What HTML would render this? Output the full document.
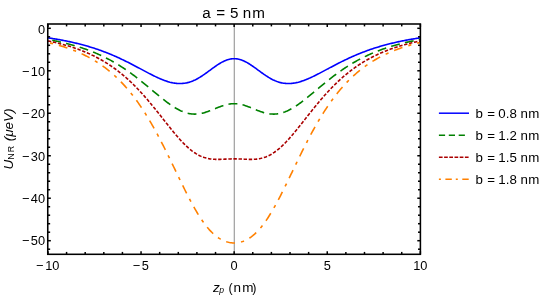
<!DOCTYPE html>
<html><head><meta charset="utf-8"><title>plot</title>
<style>
html,body{margin:0;padding:0;background:#fff;}
body{width:545px;height:296px;overflow:hidden;}
svg{display:block;will-change:transform;}
text{font-family:"Liberation Sans",sans-serif;fill:#000;}
</style></head><body>
<svg width="545" height="296" viewBox="0 0 545 296">
<rect x="0" y="0" width="545" height="296" fill="#fff"/>
<!-- x=0 gray line -->
<line x1="234.25" y1="24.0" x2="234.25" y2="254.3" stroke="#808080" stroke-width="0.92"/>
<!-- curves -->
<g fill="none" stroke-width="1.6" stroke-linejoin="round">
<path d="M47.95,37.83 L48.88,37.97 L49.81,38.11 L50.74,38.26 L51.67,38.40 L52.60,38.55 L53.54,38.70 L54.47,38.85 L55.40,39.00 L56.33,39.16 L57.26,39.32 L58.19,39.48 L59.12,39.65 L60.05,39.82 L60.98,39.99 L61.91,40.16 L62.85,40.34 L63.78,40.52 L64.71,40.70 L65.64,40.88 L66.57,41.07 L67.50,41.26 L68.43,41.46 L69.36,41.65 L70.29,41.86 L71.22,42.06 L72.16,42.27 L73.09,42.48 L74.02,42.69 L74.95,42.91 L75.88,43.13 L76.81,43.35 L77.74,43.58 L78.67,43.81 L79.60,44.05 L80.53,44.29 L81.47,44.53 L82.40,44.78 L83.33,45.03 L84.26,45.28 L85.19,45.54 L86.12,45.80 L87.05,46.07 L87.98,46.34 L88.91,46.62 L89.84,46.90 L90.78,47.18 L91.71,47.47 L92.64,47.76 L93.57,48.06 L94.50,48.36 L95.43,48.67 L96.36,48.98 L97.29,49.29 L98.22,49.61 L99.16,49.94 L100.09,50.26 L101.02,50.60 L101.95,50.94 L102.88,51.28 L103.81,51.63 L104.74,51.98 L105.67,52.34 L106.60,52.70 L107.53,53.07 L108.47,53.44 L109.40,53.82 L110.33,54.20 L111.26,54.59 L112.19,54.98 L113.12,55.37 L114.05,55.78 L114.98,56.18 L115.91,56.59 L116.84,57.01 L117.78,57.43 L118.71,57.85 L119.64,58.28 L120.57,58.72 L121.50,59.16 L122.43,59.60 L123.36,60.05 L124.29,60.50 L125.22,60.95 L126.15,61.41 L127.08,61.88 L128.02,62.34 L128.95,62.81 L129.88,63.29 L130.81,63.76 L131.74,64.24 L132.67,64.73 L133.60,65.21 L134.53,65.70 L135.46,66.19 L136.39,66.68 L137.33,67.18 L138.26,67.67 L139.19,68.17 L140.12,68.67 L141.05,69.16 L141.98,69.66 L142.91,70.16 L143.84,70.65 L144.77,71.15 L145.70,71.64 L146.64,72.14 L147.57,72.63 L148.50,73.11 L149.43,73.60 L150.36,74.08 L151.29,74.55 L152.22,75.03 L153.15,75.49 L154.08,75.95 L155.01,76.40 L155.95,76.85 L156.88,77.29 L157.81,77.72 L158.74,78.14 L159.67,78.55 L160.60,78.95 L161.53,79.33 L162.46,79.71 L163.39,80.07 L164.32,80.42 L165.26,80.76 L166.19,81.08 L167.12,81.38 L168.05,81.67 L168.98,81.94 L169.91,82.20 L170.84,82.43 L171.77,82.64 L172.70,82.84 L173.63,83.01 L174.57,83.16 L175.50,83.29 L176.43,83.39 L177.36,83.47 L178.29,83.53 L179.22,83.56 L180.15,83.57 L181.08,83.55 L182.01,83.50 L182.94,83.42 L183.88,83.32 L184.81,83.19 L185.74,83.03 L186.67,82.85 L187.60,82.63 L188.53,82.39 L189.46,82.12 L190.39,81.82 L191.32,81.49 L192.25,81.13 L193.19,80.75 L194.12,80.34 L195.05,79.91 L195.98,79.45 L196.91,78.96 L197.84,78.45 L198.77,77.92 L199.70,77.37 L200.63,76.79 L201.56,76.20 L202.50,75.59 L203.43,74.96 L204.36,74.32 L205.29,73.67 L206.22,73.00 L207.15,72.33 L208.08,71.65 L209.01,70.97 L209.94,70.28 L210.88,69.59 L211.81,68.91 L212.74,68.22 L213.67,67.55 L214.60,66.88 L215.53,66.23 L216.46,65.59 L217.39,64.96 L218.32,64.35 L219.25,63.77 L220.19,63.20 L221.12,62.66 L222.05,62.15 L222.98,61.67 L223.91,61.21 L224.84,60.79 L225.77,60.41 L226.70,60.06 L227.63,59.75 L228.56,59.48 L229.50,59.25 L230.43,59.05 L231.36,58.90 L232.29,58.80 L233.22,58.73 L234.15,58.71 L235.08,58.73 L236.01,58.80 L236.94,58.90 L237.87,59.05 L238.81,59.25 L239.74,59.48 L240.67,59.75 L241.60,60.06 L242.53,60.41 L243.46,60.79 L244.39,61.21 L245.32,61.67 L246.25,62.15 L247.18,62.66 L248.12,63.20 L249.05,63.77 L249.98,64.35 L250.91,64.96 L251.84,65.59 L252.77,66.23 L253.70,66.88 L254.63,67.55 L255.56,68.22 L256.49,68.91 L257.43,69.59 L258.36,70.28 L259.29,70.97 L260.22,71.65 L261.15,72.33 L262.08,73.00 L263.01,73.67 L263.94,74.32 L264.87,74.96 L265.80,75.59 L266.74,76.20 L267.67,76.79 L268.60,77.37 L269.53,77.92 L270.46,78.45 L271.39,78.96 L272.32,79.45 L273.25,79.91 L274.18,80.34 L275.11,80.75 L276.05,81.13 L276.98,81.49 L277.91,81.82 L278.84,82.12 L279.77,82.39 L280.70,82.63 L281.63,82.85 L282.56,83.03 L283.49,83.19 L284.42,83.32 L285.36,83.42 L286.29,83.50 L287.22,83.55 L288.15,83.57 L289.08,83.56 L290.01,83.53 L290.94,83.47 L291.87,83.39 L292.80,83.29 L293.73,83.16 L294.67,83.01 L295.60,82.84 L296.53,82.64 L297.46,82.43 L298.39,82.20 L299.32,81.94 L300.25,81.67 L301.18,81.38 L302.11,81.08 L303.04,80.76 L303.98,80.42 L304.91,80.07 L305.84,79.71 L306.77,79.33 L307.70,78.95 L308.63,78.55 L309.56,78.14 L310.49,77.72 L311.42,77.29 L312.35,76.85 L313.29,76.40 L314.22,75.95 L315.15,75.49 L316.08,75.03 L317.01,74.55 L317.94,74.08 L318.87,73.60 L319.80,73.11 L320.73,72.63 L321.66,72.14 L322.60,71.64 L323.53,71.15 L324.46,70.65 L325.39,70.16 L326.32,69.66 L327.25,69.16 L328.18,68.67 L329.11,68.17 L330.04,67.67 L330.97,67.18 L331.91,66.68 L332.84,66.19 L333.77,65.70 L334.70,65.21 L335.63,64.73 L336.56,64.24 L337.49,63.76 L338.42,63.29 L339.35,62.81 L340.28,62.34 L341.22,61.88 L342.15,61.41 L343.08,60.95 L344.01,60.50 L344.94,60.05 L345.87,59.60 L346.80,59.16 L347.73,58.72 L348.66,58.28 L349.59,57.85 L350.52,57.43 L351.46,57.01 L352.39,56.59 L353.32,56.18 L354.25,55.78 L355.18,55.37 L356.11,54.98 L357.04,54.59 L357.97,54.20 L358.90,53.82 L359.84,53.44 L360.77,53.07 L361.70,52.70 L362.63,52.34 L363.56,51.98 L364.49,51.63 L365.42,51.28 L366.35,50.94 L367.28,50.60 L368.21,50.26 L369.14,49.94 L370.08,49.61 L371.01,49.29 L371.94,48.98 L372.87,48.67 L373.80,48.36 L374.73,48.06 L375.66,47.76 L376.59,47.47 L377.52,47.18 L378.46,46.90 L379.39,46.62 L380.32,46.34 L381.25,46.07 L382.18,45.80 L383.11,45.54 L384.04,45.28 L384.97,45.03 L385.90,44.78 L386.83,44.53 L387.76,44.29 L388.70,44.05 L389.63,43.81 L390.56,43.58 L391.49,43.35 L392.42,43.13 L393.35,42.91 L394.28,42.69 L395.21,42.48 L396.14,42.27 L397.08,42.06 L398.01,41.86 L398.94,41.65 L399.87,41.46 L400.80,41.26 L401.73,41.07 L402.66,40.88 L403.59,40.70 L404.52,40.52 L405.45,40.34 L406.38,40.16 L407.32,39.99 L408.25,39.82 L409.18,39.65 L410.11,39.48 L411.04,39.32 L411.97,39.16 L412.90,39.00 L413.83,38.85 L414.76,38.70 L415.70,38.55 L416.63,38.40 L417.56,38.26 L418.49,38.11 L419.42,37.97 L420.35,37.83" stroke="#0000ff"/>
<path d="M47.95,39.54 L48.88,39.70 L49.81,39.87 L50.74,40.05 L51.67,40.22 L52.60,40.40 L53.54,40.58 L54.47,40.77 L55.40,40.96 L56.33,41.15 L57.26,41.34 L58.19,41.54 L59.12,41.74 L60.05,41.95 L60.98,42.15 L61.91,42.37 L62.85,42.58 L63.78,42.80 L64.71,43.02 L65.64,43.25 L66.57,43.48 L67.50,43.72 L68.43,43.96 L69.36,44.20 L70.29,44.45 L71.22,44.70 L72.16,44.95 L73.09,45.21 L74.02,45.48 L74.95,45.75 L75.88,46.02 L76.81,46.30 L77.74,46.59 L78.67,46.87 L79.60,47.17 L80.53,47.47 L81.47,47.77 L82.40,48.08 L83.33,48.39 L84.26,48.71 L85.19,49.04 L86.12,49.37 L87.05,49.70 L87.98,50.04 L88.91,50.39 L89.84,50.74 L90.78,51.10 L91.71,51.47 L92.64,51.84 L93.57,52.22 L94.50,52.60 L95.43,52.99 L96.36,53.39 L97.29,53.79 L98.22,54.20 L99.16,54.62 L100.09,55.04 L101.02,55.47 L101.95,55.91 L102.88,56.35 L103.81,56.80 L104.74,57.26 L105.67,57.73 L106.60,58.20 L107.53,58.68 L108.47,59.17 L109.40,59.66 L110.33,60.16 L111.26,60.67 L112.19,61.19 L113.12,61.72 L114.05,62.25 L114.98,62.79 L115.91,63.34 L116.84,63.90 L117.78,64.46 L118.71,65.03 L119.64,65.61 L120.57,66.20 L121.50,66.80 L122.43,67.40 L123.36,68.01 L124.29,68.63 L125.22,69.26 L126.15,69.89 L127.08,70.54 L128.02,71.19 L128.95,71.85 L129.88,72.51 L130.81,73.18 L131.74,73.86 L132.67,74.55 L133.60,75.25 L134.53,75.95 L135.46,76.65 L136.39,77.37 L137.33,78.09 L138.26,78.82 L139.19,79.55 L140.12,80.29 L141.05,81.03 L141.98,81.78 L142.91,82.53 L143.84,83.29 L144.77,84.06 L145.70,84.82 L146.64,85.59 L147.57,86.36 L148.50,87.14 L149.43,87.92 L150.36,88.69 L151.29,89.47 L152.22,90.26 L153.15,91.04 L154.08,91.82 L155.01,92.60 L155.95,93.37 L156.88,94.15 L157.81,94.92 L158.74,95.69 L159.67,96.45 L160.60,97.21 L161.53,97.96 L162.46,98.71 L163.39,99.45 L164.32,100.18 L165.26,100.90 L166.19,101.61 L167.12,102.31 L168.05,103.00 L168.98,103.68 L169.91,104.34 L170.84,104.99 L171.77,105.62 L172.70,106.24 L173.63,106.84 L174.57,107.42 L175.50,107.99 L176.43,108.53 L177.36,109.05 L178.29,109.55 L179.22,110.03 L180.15,110.49 L181.08,110.92 L182.01,111.32 L182.94,111.70 L183.88,112.06 L184.81,112.38 L185.74,112.68 L186.67,112.95 L187.60,113.20 L188.53,113.41 L189.46,113.60 L190.39,113.75 L191.32,113.88 L192.25,113.97 L193.19,114.04 L194.12,114.08 L195.05,114.09 L195.98,114.06 L196.91,114.01 L197.84,113.93 L198.77,113.83 L199.70,113.69 L200.63,113.53 L201.56,113.35 L202.50,113.14 L203.43,112.91 L204.36,112.65 L205.29,112.38 L206.22,112.09 L207.15,111.78 L208.08,111.45 L209.01,111.11 L209.94,110.76 L210.88,110.39 L211.81,110.02 L212.74,109.64 L213.67,109.26 L214.60,108.87 L215.53,108.49 L216.46,108.11 L217.39,107.73 L218.32,107.35 L219.25,106.99 L220.19,106.63 L221.12,106.29 L222.05,105.96 L222.98,105.65 L223.91,105.35 L224.84,105.08 L225.77,104.83 L226.70,104.59 L227.63,104.39 L228.56,104.20 L229.50,104.05 L230.43,103.92 L231.36,103.82 L232.29,103.74 L233.22,103.70 L234.15,103.69 L235.08,103.70 L236.01,103.74 L236.94,103.82 L237.87,103.92 L238.81,104.05 L239.74,104.20 L240.67,104.39 L241.60,104.59 L242.53,104.83 L243.46,105.08 L244.39,105.35 L245.32,105.65 L246.25,105.96 L247.18,106.29 L248.12,106.63 L249.05,106.99 L249.98,107.35 L250.91,107.73 L251.84,108.11 L252.77,108.49 L253.70,108.87 L254.63,109.26 L255.56,109.64 L256.49,110.02 L257.43,110.39 L258.36,110.76 L259.29,111.11 L260.22,111.45 L261.15,111.78 L262.08,112.09 L263.01,112.38 L263.94,112.65 L264.87,112.91 L265.80,113.14 L266.74,113.35 L267.67,113.53 L268.60,113.69 L269.53,113.83 L270.46,113.93 L271.39,114.01 L272.32,114.06 L273.25,114.09 L274.18,114.08 L275.11,114.04 L276.05,113.97 L276.98,113.88 L277.91,113.75 L278.84,113.60 L279.77,113.41 L280.70,113.20 L281.63,112.95 L282.56,112.68 L283.49,112.38 L284.42,112.06 L285.36,111.70 L286.29,111.32 L287.22,110.92 L288.15,110.49 L289.08,110.03 L290.01,109.55 L290.94,109.05 L291.87,108.53 L292.80,107.99 L293.73,107.42 L294.67,106.84 L295.60,106.24 L296.53,105.62 L297.46,104.99 L298.39,104.34 L299.32,103.68 L300.25,103.00 L301.18,102.31 L302.11,101.61 L303.04,100.90 L303.98,100.18 L304.91,99.45 L305.84,98.71 L306.77,97.96 L307.70,97.21 L308.63,96.45 L309.56,95.69 L310.49,94.92 L311.42,94.15 L312.35,93.37 L313.29,92.60 L314.22,91.82 L315.15,91.04 L316.08,90.26 L317.01,89.47 L317.94,88.69 L318.87,87.92 L319.80,87.14 L320.73,86.36 L321.66,85.59 L322.60,84.82 L323.53,84.06 L324.46,83.29 L325.39,82.53 L326.32,81.78 L327.25,81.03 L328.18,80.29 L329.11,79.55 L330.04,78.82 L330.97,78.09 L331.91,77.37 L332.84,76.65 L333.77,75.95 L334.70,75.25 L335.63,74.55 L336.56,73.86 L337.49,73.18 L338.42,72.51 L339.35,71.85 L340.28,71.19 L341.22,70.54 L342.15,69.89 L343.08,69.26 L344.01,68.63 L344.94,68.01 L345.87,67.40 L346.80,66.80 L347.73,66.20 L348.66,65.61 L349.59,65.03 L350.52,64.46 L351.46,63.90 L352.39,63.34 L353.32,62.79 L354.25,62.25 L355.18,61.72 L356.11,61.19 L357.04,60.67 L357.97,60.16 L358.90,59.66 L359.84,59.17 L360.77,58.68 L361.70,58.20 L362.63,57.73 L363.56,57.26 L364.49,56.80 L365.42,56.35 L366.35,55.91 L367.28,55.47 L368.21,55.04 L369.14,54.62 L370.08,54.20 L371.01,53.79 L371.94,53.39 L372.87,52.99 L373.80,52.60 L374.73,52.22 L375.66,51.84 L376.59,51.47 L377.52,51.10 L378.46,50.74 L379.39,50.39 L380.32,50.04 L381.25,49.70 L382.18,49.37 L383.11,49.04 L384.04,48.71 L384.97,48.39 L385.90,48.08 L386.83,47.77 L387.76,47.47 L388.70,47.17 L389.63,46.87 L390.56,46.59 L391.49,46.30 L392.42,46.02 L393.35,45.75 L394.28,45.48 L395.21,45.21 L396.14,44.95 L397.08,44.70 L398.01,44.45 L398.94,44.20 L399.87,43.96 L400.80,43.72 L401.73,43.48 L402.66,43.25 L403.59,43.02 L404.52,42.80 L405.45,42.58 L406.38,42.37 L407.32,42.15 L408.25,41.95 L409.18,41.74 L410.11,41.54 L411.04,41.34 L411.97,41.15 L412.90,40.96 L413.83,40.77 L414.76,40.58 L415.70,40.40 L416.63,40.22 L417.56,40.05 L418.49,39.87 L419.42,39.70 L420.35,39.54" stroke="#008000" stroke-dasharray="8.9 5.27" stroke-dashoffset="9.8"/>
<path d="M47.95,40.92 L48.88,41.11 L49.81,41.30 L50.74,41.50 L51.67,41.71 L52.60,41.91 L53.54,42.12 L54.47,42.34 L55.40,42.55 L56.33,42.77 L57.26,43.00 L58.19,43.23 L59.12,43.46 L60.05,43.70 L60.98,43.94 L61.91,44.19 L62.85,44.44 L63.78,44.69 L64.71,44.95 L65.64,45.22 L66.57,45.49 L67.50,45.76 L68.43,46.04 L69.36,46.32 L70.29,46.61 L71.22,46.91 L72.16,47.21 L73.09,47.51 L74.02,47.82 L74.95,48.14 L75.88,48.46 L76.81,48.79 L77.74,49.12 L78.67,49.46 L79.60,49.81 L80.53,50.16 L81.47,50.52 L82.40,50.89 L83.33,51.26 L84.26,51.64 L85.19,52.02 L86.12,52.42 L87.05,52.82 L87.98,53.22 L88.91,53.64 L89.84,54.06 L90.78,54.49 L91.71,54.93 L92.64,55.37 L93.57,55.83 L94.50,56.29 L95.43,56.76 L96.36,57.24 L97.29,57.72 L98.22,58.22 L99.16,58.72 L100.09,59.23 L101.02,59.76 L101.95,60.29 L102.88,60.83 L103.81,61.38 L104.74,61.94 L105.67,62.51 L106.60,63.09 L107.53,63.68 L108.47,64.28 L109.40,64.89 L110.33,65.51 L111.26,66.14 L112.19,66.78 L113.12,67.43 L114.05,68.10 L114.98,68.77 L115.91,69.46 L116.84,70.15 L117.78,70.86 L118.71,71.58 L119.64,72.32 L120.57,73.06 L121.50,73.81 L122.43,74.58 L123.36,75.36 L124.29,76.15 L125.22,76.95 L126.15,77.77 L127.08,78.60 L128.02,79.44 L128.95,80.29 L129.88,81.15 L130.81,82.03 L131.74,82.92 L132.67,83.82 L133.60,84.73 L134.53,85.66 L135.46,86.60 L136.39,87.55 L137.33,88.51 L138.26,89.48 L139.19,90.47 L140.12,91.47 L141.05,92.48 L141.98,93.50 L142.91,94.53 L143.84,95.57 L144.77,96.62 L145.70,97.69 L146.64,98.76 L147.57,99.85 L148.50,100.94 L149.43,102.04 L150.36,103.16 L151.29,104.28 L152.22,105.41 L153.15,106.54 L154.08,107.69 L155.01,108.84 L155.95,109.99 L156.88,111.15 L157.81,112.32 L158.74,113.49 L159.67,114.66 L160.60,115.84 L161.53,117.02 L162.46,118.20 L163.39,119.38 L164.32,120.57 L165.26,121.75 L166.19,122.92 L167.12,124.10 L168.05,125.27 L168.98,126.44 L169.91,127.60 L170.84,128.76 L171.77,129.90 L172.70,131.04 L173.63,132.17 L174.57,133.29 L175.50,134.40 L176.43,135.49 L177.36,136.57 L178.29,137.63 L179.22,138.68 L180.15,139.71 L181.08,140.72 L182.01,141.72 L182.94,142.69 L183.88,143.64 L184.81,144.57 L185.74,145.47 L186.67,146.35 L187.60,147.20 L188.53,148.03 L189.46,148.83 L190.39,149.60 L191.32,150.35 L192.25,151.06 L193.19,151.74 L194.12,152.40 L195.05,153.02 L195.98,153.62 L196.91,154.18 L197.84,154.71 L198.77,155.21 L199.70,155.67 L200.63,156.11 L201.56,156.51 L202.50,156.89 L203.43,157.23 L204.36,157.55 L205.29,157.83 L206.22,158.09 L207.15,158.32 L208.08,158.52 L209.01,158.70 L209.94,158.86 L210.88,158.99 L211.81,159.10 L212.74,159.19 L213.67,159.25 L214.60,159.31 L215.53,159.34 L216.46,159.36 L217.39,159.37 L218.32,159.37 L219.25,159.35 L220.19,159.33 L221.12,159.30 L222.05,159.27 L222.98,159.23 L223.91,159.19 L224.84,159.15 L225.77,159.11 L226.70,159.06 L227.63,159.03 L228.56,158.99 L229.50,158.96 L230.43,158.93 L231.36,158.91 L232.29,158.89 L233.22,158.88 L234.15,158.88 L235.08,158.88 L236.01,158.89 L236.94,158.91 L237.87,158.93 L238.81,158.96 L239.74,158.99 L240.67,159.03 L241.60,159.06 L242.53,159.11 L243.46,159.15 L244.39,159.19 L245.32,159.23 L246.25,159.27 L247.18,159.30 L248.12,159.33 L249.05,159.35 L249.98,159.37 L250.91,159.37 L251.84,159.36 L252.77,159.34 L253.70,159.31 L254.63,159.25 L255.56,159.19 L256.49,159.10 L257.43,158.99 L258.36,158.86 L259.29,158.70 L260.22,158.52 L261.15,158.32 L262.08,158.09 L263.01,157.83 L263.94,157.55 L264.87,157.23 L265.80,156.89 L266.74,156.51 L267.67,156.11 L268.60,155.67 L269.53,155.21 L270.46,154.71 L271.39,154.18 L272.32,153.62 L273.25,153.02 L274.18,152.40 L275.11,151.74 L276.05,151.06 L276.98,150.35 L277.91,149.60 L278.84,148.83 L279.77,148.03 L280.70,147.20 L281.63,146.35 L282.56,145.47 L283.49,144.57 L284.42,143.64 L285.36,142.69 L286.29,141.72 L287.22,140.72 L288.15,139.71 L289.08,138.68 L290.01,137.63 L290.94,136.57 L291.87,135.49 L292.80,134.40 L293.73,133.29 L294.67,132.17 L295.60,131.04 L296.53,129.90 L297.46,128.76 L298.39,127.60 L299.32,126.44 L300.25,125.27 L301.18,124.10 L302.11,122.92 L303.04,121.75 L303.98,120.57 L304.91,119.38 L305.84,118.20 L306.77,117.02 L307.70,115.84 L308.63,114.66 L309.56,113.49 L310.49,112.32 L311.42,111.15 L312.35,109.99 L313.29,108.84 L314.22,107.69 L315.15,106.54 L316.08,105.41 L317.01,104.28 L317.94,103.16 L318.87,102.04 L319.80,100.94 L320.73,99.85 L321.66,98.76 L322.60,97.69 L323.53,96.62 L324.46,95.57 L325.39,94.53 L326.32,93.50 L327.25,92.48 L328.18,91.47 L329.11,90.47 L330.04,89.48 L330.97,88.51 L331.91,87.55 L332.84,86.60 L333.77,85.66 L334.70,84.73 L335.63,83.82 L336.56,82.92 L337.49,82.03 L338.42,81.15 L339.35,80.29 L340.28,79.44 L341.22,78.60 L342.15,77.77 L343.08,76.95 L344.01,76.15 L344.94,75.36 L345.87,74.58 L346.80,73.81 L347.73,73.06 L348.66,72.32 L349.59,71.58 L350.52,70.86 L351.46,70.15 L352.39,69.46 L353.32,68.77 L354.25,68.10 L355.18,67.43 L356.11,66.78 L357.04,66.14 L357.97,65.51 L358.90,64.89 L359.84,64.28 L360.77,63.68 L361.70,63.09 L362.63,62.51 L363.56,61.94 L364.49,61.38 L365.42,60.83 L366.35,60.29 L367.28,59.76 L368.21,59.23 L369.14,58.72 L370.08,58.22 L371.01,57.72 L371.94,57.24 L372.87,56.76 L373.80,56.29 L374.73,55.83 L375.66,55.37 L376.59,54.93 L377.52,54.49 L378.46,54.06 L379.39,53.64 L380.32,53.22 L381.25,52.82 L382.18,52.42 L383.11,52.02 L384.04,51.64 L384.97,51.26 L385.90,50.89 L386.83,50.52 L387.76,50.16 L388.70,49.81 L389.63,49.46 L390.56,49.12 L391.49,48.79 L392.42,48.46 L393.35,48.14 L394.28,47.82 L395.21,47.51 L396.14,47.21 L397.08,46.91 L398.01,46.61 L398.94,46.32 L399.87,46.04 L400.80,45.76 L401.73,45.49 L402.66,45.22 L403.59,44.95 L404.52,44.69 L405.45,44.44 L406.38,44.19 L407.32,43.94 L408.25,43.70 L409.18,43.46 L410.11,43.23 L411.04,43.00 L411.97,42.77 L412.90,42.55 L413.83,42.34 L414.76,42.12 L415.70,41.91 L416.63,41.71 L417.56,41.50 L418.49,41.30 L419.42,41.11 L420.35,40.92" stroke="#aa0000" stroke-dasharray="3.4 1.7"/>
<path d="M47.95,42.44 L48.88,42.66 L49.81,42.89 L50.74,43.12 L51.67,43.35 L52.60,43.59 L53.54,43.83 L54.47,44.08 L55.40,44.33 L56.33,44.59 L57.26,44.85 L58.19,45.11 L59.12,45.39 L60.05,45.66 L60.98,45.94 L61.91,46.23 L62.85,46.52 L63.78,46.82 L64.71,47.12 L65.64,47.43 L66.57,47.74 L67.50,48.06 L68.43,48.39 L69.36,48.72 L70.29,49.06 L71.22,49.41 L72.16,49.76 L73.09,50.12 L74.02,50.49 L74.95,50.86 L75.88,51.24 L76.81,51.63 L77.74,52.02 L78.67,52.42 L79.60,52.83 L80.53,53.25 L81.47,53.68 L82.40,54.11 L83.33,54.56 L84.26,55.01 L85.19,55.47 L86.12,55.94 L87.05,56.41 L87.98,56.90 L88.91,57.40 L89.84,57.90 L90.78,58.42 L91.71,58.95 L92.64,59.48 L93.57,60.03 L94.50,60.59 L95.43,61.16 L96.36,61.74 L97.29,62.33 L98.22,62.93 L99.16,63.54 L100.09,64.17 L101.02,64.80 L101.95,65.45 L102.88,66.12 L103.81,66.79 L104.74,67.48 L105.67,68.18 L106.60,68.90 L107.53,69.63 L108.47,70.37 L109.40,71.12 L110.33,71.90 L111.26,72.68 L112.19,73.48 L113.12,74.30 L114.05,75.13 L114.98,75.97 L115.91,76.84 L116.84,77.72 L117.78,78.61 L118.71,79.52 L119.64,80.45 L120.57,81.40 L121.50,82.36 L122.43,83.34 L123.36,84.34 L124.29,85.35 L125.22,86.39 L126.15,87.44 L127.08,88.51 L128.02,89.60 L128.95,90.71 L129.88,91.84 L130.81,92.99 L131.74,94.16 L132.67,95.34 L133.60,96.55 L134.53,97.78 L135.46,99.03 L136.39,100.30 L137.33,101.59 L138.26,102.90 L139.19,104.23 L140.12,105.58 L141.05,106.95 L141.98,108.34 L142.91,109.76 L143.84,111.19 L144.77,112.65 L145.70,114.12 L146.64,115.62 L147.57,117.14 L148.50,118.68 L149.43,120.24 L150.36,121.82 L151.29,123.42 L152.22,125.04 L153.15,126.68 L154.08,128.34 L155.01,130.01 L155.95,131.71 L156.88,133.43 L157.81,135.16 L158.74,136.91 L159.67,138.68 L160.60,140.46 L161.53,142.26 L162.46,144.07 L163.39,145.90 L164.32,147.74 L165.26,149.60 L166.19,151.47 L167.12,153.34 L168.05,155.23 L168.98,157.13 L169.91,159.04 L170.84,160.95 L171.77,162.87 L172.70,164.80 L173.63,166.73 L174.57,168.66 L175.50,170.60 L176.43,172.53 L177.36,174.46 L178.29,176.40 L179.22,178.32 L180.15,180.25 L181.08,182.16 L182.01,184.07 L182.94,185.97 L183.88,187.85 L184.81,189.73 L185.74,191.59 L186.67,193.43 L187.60,195.26 L188.53,197.07 L189.46,198.85 L190.39,200.62 L191.32,202.36 L192.25,204.08 L193.19,205.77 L194.12,207.44 L195.05,209.07 L195.98,210.67 L196.91,212.25 L197.84,213.79 L198.77,215.29 L199.70,216.76 L200.63,218.20 L201.56,219.59 L202.50,220.95 L203.43,222.27 L204.36,223.55 L205.29,224.79 L206.22,225.99 L207.15,227.15 L208.08,228.26 L209.01,229.34 L209.94,230.37 L210.88,231.36 L211.81,232.30 L212.74,233.20 L213.67,234.07 L214.60,234.88 L215.53,235.66 L216.46,236.40 L217.39,237.09 L218.32,237.74 L219.25,238.35 L220.19,238.92 L221.12,239.45 L222.05,239.94 L222.98,240.40 L223.91,240.81 L224.84,241.19 L225.77,241.53 L226.70,241.83 L227.63,242.09 L228.56,242.32 L229.50,242.51 L230.43,242.67 L231.36,242.79 L232.29,242.88 L233.22,242.93 L234.15,242.95 L235.08,242.93 L236.01,242.88 L236.94,242.79 L237.87,242.67 L238.81,242.51 L239.74,242.32 L240.67,242.09 L241.60,241.83 L242.53,241.53 L243.46,241.19 L244.39,240.81 L245.32,240.40 L246.25,239.94 L247.18,239.45 L248.12,238.92 L249.05,238.35 L249.98,237.74 L250.91,237.09 L251.84,236.40 L252.77,235.66 L253.70,234.88 L254.63,234.07 L255.56,233.20 L256.49,232.30 L257.43,231.36 L258.36,230.37 L259.29,229.34 L260.22,228.26 L261.15,227.15 L262.08,225.99 L263.01,224.79 L263.94,223.55 L264.87,222.27 L265.80,220.95 L266.74,219.59 L267.67,218.20 L268.60,216.76 L269.53,215.29 L270.46,213.79 L271.39,212.25 L272.32,210.67 L273.25,209.07 L274.18,207.44 L275.11,205.77 L276.05,204.08 L276.98,202.36 L277.91,200.62 L278.84,198.85 L279.77,197.07 L280.70,195.26 L281.63,193.43 L282.56,191.59 L283.49,189.73 L284.42,187.85 L285.36,185.97 L286.29,184.07 L287.22,182.16 L288.15,180.25 L289.08,178.32 L290.01,176.40 L290.94,174.46 L291.87,172.53 L292.80,170.60 L293.73,168.66 L294.67,166.73 L295.60,164.80 L296.53,162.87 L297.46,160.95 L298.39,159.04 L299.32,157.13 L300.25,155.23 L301.18,153.34 L302.11,151.47 L303.04,149.60 L303.98,147.74 L304.91,145.90 L305.84,144.07 L306.77,142.26 L307.70,140.46 L308.63,138.68 L309.56,136.91 L310.49,135.16 L311.42,133.43 L312.35,131.71 L313.29,130.01 L314.22,128.34 L315.15,126.68 L316.08,125.04 L317.01,123.42 L317.94,121.82 L318.87,120.24 L319.80,118.68 L320.73,117.14 L321.66,115.62 L322.60,114.12 L323.53,112.65 L324.46,111.19 L325.39,109.76 L326.32,108.34 L327.25,106.95 L328.18,105.58 L329.11,104.23 L330.04,102.90 L330.97,101.59 L331.91,100.30 L332.84,99.03 L333.77,97.78 L334.70,96.55 L335.63,95.34 L336.56,94.16 L337.49,92.99 L338.42,91.84 L339.35,90.71 L340.28,89.60 L341.22,88.51 L342.15,87.44 L343.08,86.39 L344.01,85.35 L344.94,84.34 L345.87,83.34 L346.80,82.36 L347.73,81.40 L348.66,80.45 L349.59,79.52 L350.52,78.61 L351.46,77.72 L352.39,76.84 L353.32,75.97 L354.25,75.13 L355.18,74.30 L356.11,73.48 L357.04,72.68 L357.97,71.90 L358.90,71.12 L359.84,70.37 L360.77,69.63 L361.70,68.90 L362.63,68.18 L363.56,67.48 L364.49,66.79 L365.42,66.12 L366.35,65.45 L367.28,64.80 L368.21,64.17 L369.14,63.54 L370.08,62.93 L371.01,62.33 L371.94,61.74 L372.87,61.16 L373.80,60.59 L374.73,60.03 L375.66,59.48 L376.59,58.95 L377.52,58.42 L378.46,57.90 L379.39,57.40 L380.32,56.90 L381.25,56.41 L382.18,55.94 L383.11,55.47 L384.04,55.01 L384.97,54.56 L385.90,54.11 L386.83,53.68 L387.76,53.25 L388.70,52.83 L389.63,52.42 L390.56,52.02 L391.49,51.63 L392.42,51.24 L393.35,50.86 L394.28,50.49 L395.21,50.12 L396.14,49.76 L397.08,49.41 L398.01,49.06 L398.94,48.72 L399.87,48.39 L400.80,48.06 L401.73,47.74 L402.66,47.43 L403.59,47.12 L404.52,46.82 L405.45,46.52 L406.38,46.23 L407.32,45.94 L408.25,45.66 L409.18,45.39 L410.11,45.11 L411.04,44.85 L411.97,44.59 L412.90,44.33 L413.83,44.08 L414.76,43.83 L415.70,43.59 L416.63,43.35 L417.56,43.12 L418.49,42.89 L419.42,42.66 L420.35,42.44" stroke="#ff8000" stroke-dasharray="3.2 6.0 8.9 6.15" stroke-dashoffset="22.15"/>
</g>
<!-- frame -->
<rect x="47.75" y="24.0" width="372.65" height="230.30" fill="none" stroke="#000" stroke-width="1.55"/>
<g><line x1="47.95" y1="254.30" x2="47.95" y2="251.20" stroke="#000" stroke-width="1.50"/><line x1="47.95" y1="24.00" x2="47.95" y2="27.10" stroke="#000" stroke-width="1.50"/><line x1="66.57" y1="254.30" x2="66.57" y2="251.90" stroke="#000" stroke-width="1.50"/><line x1="66.57" y1="24.00" x2="66.57" y2="26.40" stroke="#000" stroke-width="1.50"/><line x1="85.19" y1="254.30" x2="85.19" y2="251.90" stroke="#000" stroke-width="1.50"/><line x1="85.19" y1="24.00" x2="85.19" y2="26.40" stroke="#000" stroke-width="1.50"/><line x1="103.81" y1="254.30" x2="103.81" y2="251.90" stroke="#000" stroke-width="1.50"/><line x1="103.81" y1="24.00" x2="103.81" y2="26.40" stroke="#000" stroke-width="1.50"/><line x1="122.43" y1="254.30" x2="122.43" y2="251.90" stroke="#000" stroke-width="1.50"/><line x1="122.43" y1="24.00" x2="122.43" y2="26.40" stroke="#000" stroke-width="1.50"/><line x1="141.05" y1="254.30" x2="141.05" y2="251.20" stroke="#000" stroke-width="1.50"/><line x1="141.05" y1="24.00" x2="141.05" y2="27.10" stroke="#000" stroke-width="1.50"/><line x1="159.67" y1="254.30" x2="159.67" y2="251.90" stroke="#000" stroke-width="1.50"/><line x1="159.67" y1="24.00" x2="159.67" y2="26.40" stroke="#000" stroke-width="1.50"/><line x1="178.29" y1="254.30" x2="178.29" y2="251.90" stroke="#000" stroke-width="1.50"/><line x1="178.29" y1="24.00" x2="178.29" y2="26.40" stroke="#000" stroke-width="1.50"/><line x1="196.91" y1="254.30" x2="196.91" y2="251.90" stroke="#000" stroke-width="1.50"/><line x1="196.91" y1="24.00" x2="196.91" y2="26.40" stroke="#000" stroke-width="1.50"/><line x1="215.53" y1="254.30" x2="215.53" y2="251.90" stroke="#000" stroke-width="1.50"/><line x1="215.53" y1="24.00" x2="215.53" y2="26.40" stroke="#000" stroke-width="1.50"/><line x1="234.15" y1="254.30" x2="234.15" y2="251.20" stroke="#000" stroke-width="1.50"/><line x1="234.15" y1="24.00" x2="234.15" y2="27.10" stroke="#000" stroke-width="1.50"/><line x1="252.77" y1="254.30" x2="252.77" y2="251.90" stroke="#000" stroke-width="1.50"/><line x1="252.77" y1="24.00" x2="252.77" y2="26.40" stroke="#000" stroke-width="1.50"/><line x1="271.39" y1="254.30" x2="271.39" y2="251.90" stroke="#000" stroke-width="1.50"/><line x1="271.39" y1="24.00" x2="271.39" y2="26.40" stroke="#000" stroke-width="1.50"/><line x1="290.01" y1="254.30" x2="290.01" y2="251.90" stroke="#000" stroke-width="1.50"/><line x1="290.01" y1="24.00" x2="290.01" y2="26.40" stroke="#000" stroke-width="1.50"/><line x1="308.63" y1="254.30" x2="308.63" y2="251.90" stroke="#000" stroke-width="1.50"/><line x1="308.63" y1="24.00" x2="308.63" y2="26.40" stroke="#000" stroke-width="1.50"/><line x1="327.25" y1="254.30" x2="327.25" y2="251.20" stroke="#000" stroke-width="1.50"/><line x1="327.25" y1="24.00" x2="327.25" y2="27.10" stroke="#000" stroke-width="1.50"/><line x1="345.87" y1="254.30" x2="345.87" y2="251.90" stroke="#000" stroke-width="1.50"/><line x1="345.87" y1="24.00" x2="345.87" y2="26.40" stroke="#000" stroke-width="1.50"/><line x1="364.49" y1="254.30" x2="364.49" y2="251.90" stroke="#000" stroke-width="1.50"/><line x1="364.49" y1="24.00" x2="364.49" y2="26.40" stroke="#000" stroke-width="1.50"/><line x1="383.11" y1="254.30" x2="383.11" y2="251.90" stroke="#000" stroke-width="1.50"/><line x1="383.11" y1="24.00" x2="383.11" y2="26.40" stroke="#000" stroke-width="1.50"/><line x1="401.73" y1="254.30" x2="401.73" y2="251.90" stroke="#000" stroke-width="1.50"/><line x1="401.73" y1="24.00" x2="401.73" y2="26.40" stroke="#000" stroke-width="1.50"/><line x1="420.35" y1="254.30" x2="420.35" y2="251.20" stroke="#000" stroke-width="1.50"/><line x1="420.35" y1="24.00" x2="420.35" y2="27.10" stroke="#000" stroke-width="1.50"/><line x1="47.75" y1="249.20" x2="50.15" y2="249.20" stroke="#000" stroke-width="1.50"/><line x1="420.40" y1="249.20" x2="418.00" y2="249.20" stroke="#000" stroke-width="1.50"/><line x1="47.75" y1="240.70" x2="50.85" y2="240.70" stroke="#000" stroke-width="1.50"/><line x1="420.40" y1="240.70" x2="417.30" y2="240.70" stroke="#000" stroke-width="1.50"/><line x1="47.75" y1="232.20" x2="50.15" y2="232.20" stroke="#000" stroke-width="1.50"/><line x1="420.40" y1="232.20" x2="418.00" y2="232.20" stroke="#000" stroke-width="1.50"/><line x1="47.75" y1="223.71" x2="50.15" y2="223.71" stroke="#000" stroke-width="1.50"/><line x1="420.40" y1="223.71" x2="418.00" y2="223.71" stroke="#000" stroke-width="1.50"/><line x1="47.75" y1="215.21" x2="50.15" y2="215.21" stroke="#000" stroke-width="1.50"/><line x1="420.40" y1="215.21" x2="418.00" y2="215.21" stroke="#000" stroke-width="1.50"/><line x1="47.75" y1="206.72" x2="50.15" y2="206.72" stroke="#000" stroke-width="1.50"/><line x1="420.40" y1="206.72" x2="418.00" y2="206.72" stroke="#000" stroke-width="1.50"/><line x1="47.75" y1="198.22" x2="50.85" y2="198.22" stroke="#000" stroke-width="1.50"/><line x1="420.40" y1="198.22" x2="417.30" y2="198.22" stroke="#000" stroke-width="1.50"/><line x1="47.75" y1="189.72" x2="50.15" y2="189.72" stroke="#000" stroke-width="1.50"/><line x1="420.40" y1="189.72" x2="418.00" y2="189.72" stroke="#000" stroke-width="1.50"/><line x1="47.75" y1="181.23" x2="50.15" y2="181.23" stroke="#000" stroke-width="1.50"/><line x1="420.40" y1="181.23" x2="418.00" y2="181.23" stroke="#000" stroke-width="1.50"/><line x1="47.75" y1="172.73" x2="50.15" y2="172.73" stroke="#000" stroke-width="1.50"/><line x1="420.40" y1="172.73" x2="418.00" y2="172.73" stroke="#000" stroke-width="1.50"/><line x1="47.75" y1="164.24" x2="50.15" y2="164.24" stroke="#000" stroke-width="1.50"/><line x1="420.40" y1="164.24" x2="418.00" y2="164.24" stroke="#000" stroke-width="1.50"/><line x1="47.75" y1="155.74" x2="50.85" y2="155.74" stroke="#000" stroke-width="1.50"/><line x1="420.40" y1="155.74" x2="417.30" y2="155.74" stroke="#000" stroke-width="1.50"/><line x1="47.75" y1="147.24" x2="50.15" y2="147.24" stroke="#000" stroke-width="1.50"/><line x1="420.40" y1="147.24" x2="418.00" y2="147.24" stroke="#000" stroke-width="1.50"/><line x1="47.75" y1="138.75" x2="50.15" y2="138.75" stroke="#000" stroke-width="1.50"/><line x1="420.40" y1="138.75" x2="418.00" y2="138.75" stroke="#000" stroke-width="1.50"/><line x1="47.75" y1="130.25" x2="50.15" y2="130.25" stroke="#000" stroke-width="1.50"/><line x1="420.40" y1="130.25" x2="418.00" y2="130.25" stroke="#000" stroke-width="1.50"/><line x1="47.75" y1="121.76" x2="50.15" y2="121.76" stroke="#000" stroke-width="1.50"/><line x1="420.40" y1="121.76" x2="418.00" y2="121.76" stroke="#000" stroke-width="1.50"/><line x1="47.75" y1="113.26" x2="50.85" y2="113.26" stroke="#000" stroke-width="1.50"/><line x1="420.40" y1="113.26" x2="417.30" y2="113.26" stroke="#000" stroke-width="1.50"/><line x1="47.75" y1="104.76" x2="50.15" y2="104.76" stroke="#000" stroke-width="1.50"/><line x1="420.40" y1="104.76" x2="418.00" y2="104.76" stroke="#000" stroke-width="1.50"/><line x1="47.75" y1="96.27" x2="50.15" y2="96.27" stroke="#000" stroke-width="1.50"/><line x1="420.40" y1="96.27" x2="418.00" y2="96.27" stroke="#000" stroke-width="1.50"/><line x1="47.75" y1="87.77" x2="50.15" y2="87.77" stroke="#000" stroke-width="1.50"/><line x1="420.40" y1="87.77" x2="418.00" y2="87.77" stroke="#000" stroke-width="1.50"/><line x1="47.75" y1="79.28" x2="50.15" y2="79.28" stroke="#000" stroke-width="1.50"/><line x1="420.40" y1="79.28" x2="418.00" y2="79.28" stroke="#000" stroke-width="1.50"/><line x1="47.75" y1="70.78" x2="50.85" y2="70.78" stroke="#000" stroke-width="1.50"/><line x1="420.40" y1="70.78" x2="417.30" y2="70.78" stroke="#000" stroke-width="1.50"/><line x1="47.75" y1="62.28" x2="50.15" y2="62.28" stroke="#000" stroke-width="1.50"/><line x1="420.40" y1="62.28" x2="418.00" y2="62.28" stroke="#000" stroke-width="1.50"/><line x1="47.75" y1="53.79" x2="50.15" y2="53.79" stroke="#000" stroke-width="1.50"/><line x1="420.40" y1="53.79" x2="418.00" y2="53.79" stroke="#000" stroke-width="1.50"/><line x1="47.75" y1="45.29" x2="50.15" y2="45.29" stroke="#000" stroke-width="1.50"/><line x1="420.40" y1="45.29" x2="418.00" y2="45.29" stroke="#000" stroke-width="1.50"/><line x1="47.75" y1="36.80" x2="50.15" y2="36.80" stroke="#000" stroke-width="1.50"/><line x1="420.40" y1="36.80" x2="418.00" y2="36.80" stroke="#000" stroke-width="1.50"/><line x1="47.75" y1="28.30" x2="50.85" y2="28.30" stroke="#000" stroke-width="1.50"/><line x1="420.40" y1="28.30" x2="417.30" y2="28.30" stroke="#000" stroke-width="1.50"/></g>
<g class="t"><text x="47.75" y="270.00" font-size="12.80" text-anchor="middle">−<tspan dx="1.6">10</tspan></text><text x="140.85" y="270.00" font-size="12.80" text-anchor="middle">−<tspan dx="1.6">5</tspan></text><text x="234.15" y="270.00" font-size="12.80" text-anchor="middle">0</text><text x="327.25" y="270.00" font-size="12.80" text-anchor="middle">5</text><text x="420.35" y="270.00" font-size="12.80" text-anchor="middle">10</text><text x="45.10" y="245.35" font-size="12.80" text-anchor="end">−<tspan dx="1.3">50</tspan></text><text x="45.10" y="203.03" font-size="12.80" text-anchor="end">−<tspan dx="1.3">40</tspan></text><text x="45.10" y="160.71" font-size="12.80" text-anchor="end">−<tspan dx="1.3">30</tspan></text><text x="45.10" y="118.39" font-size="12.80" text-anchor="end">−<tspan dx="1.3">20</tspan></text><text x="45.10" y="76.07" font-size="12.80" text-anchor="end">−<tspan dx="1.3">10</tspan></text><text x="45.10" y="33.75" font-size="12.80" text-anchor="end">0</text></g>
<!-- title -->
<g font-size="15.2">
<text x="202.15" y="17.9">a</text><text x="216.35" y="17.9">=</text><text x="230.0" y="17.9">5</text><text x="242.7" y="17.9">n</text><text x="252.3" y="17.9">m</text>
</g>
<!-- x label -->
<g font-size="13.5">
<text x="212.9" y="291.9" font-style="italic">z</text>
<text x="219.3" y="292.6" font-style="italic" font-size="8.6">p</text>
<text x="228.5" y="291.9" font-size="12.5">(</text>
<text x="233.4" y="291.9">n</text>
<text x="242.3" y="291.9">m</text>
<text x="252.2" y="291.9" font-size="12.5">)</text>
</g>
<!-- y label -->
<g transform="translate(13.0,169.4) rotate(-90)" font-size="13.5">
<text x="0" y="0" font-style="italic">U</text>
<text x="9.6" y="0.9" font-size="8.8" letter-spacing="1.2">NR</text>
<text x="28.1" y="0" font-style="italic">(μeV)</text>
</g>
<!-- legend -->
<g fill="none" stroke-width="1.5">
<line x1="438.9" y1="113.2" x2="469" y2="113.2" stroke="#0000ff"/>
<line x1="438.9" y1="135.25" x2="466" y2="135.25" stroke="#008000" stroke-dasharray="6.2 3.7"/>
<line x1="438.9" y1="157.3" x2="469" y2="157.3" stroke="#aa0000" stroke-dasharray="3.7 1.5"/>
<line x1="438.9" y1="179.35" x2="469" y2="179.35" stroke="#ff8000" stroke-dasharray="2.0 4.5 6.4 4.0"/>
</g>
<g font-size="13.3">
<text x="475.4" y="117.90"><tspan>b </tspan><tspan dx="0.7">= </tspan><tspan dx="-0.3">0.8 </tspan><tspan dx="-0.1">n</tspan><tspan dx="0.5">m</tspan></text>
<text x="475.4" y="140.20"><tspan>b </tspan><tspan dx="0.7">= </tspan><tspan dx="-0.3">1.2 </tspan><tspan dx="-0.1">n</tspan><tspan dx="0.5">m</tspan></text>
<text x="475.4" y="161.90"><tspan>b </tspan><tspan dx="0.7">= </tspan><tspan dx="-0.3">1.5 </tspan><tspan dx="-0.1">n</tspan><tspan dx="0.5">m</tspan></text>
<text x="475.4" y="184.20"><tspan>b </tspan><tspan dx="0.7">= </tspan><tspan dx="-0.3">1.8 </tspan><tspan dx="-0.1">n</tspan><tspan dx="0.5">m</tspan></text>
</g>
</svg>
</body></html>
